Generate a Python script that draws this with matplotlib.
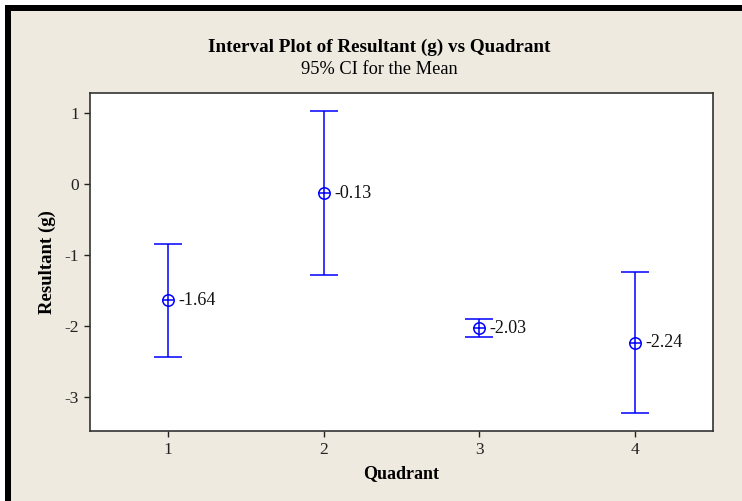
import numpy as np
import matplotlib.pyplot as plt
from matplotlib.patches import Rectangle

plt.rcParams['font.family'] = ['Liberation Serif', 'DejaVu Serif']
plt.rcParams['axes.unicode_minus'] = False

# data
quadrants = [1, 2, 3, 4]
means = [-1.64, -0.13, -2.03, -2.24]
ci_upper = [-0.85, 1.03, -1.90, -1.24]
ci_lower = [-2.44, -1.28, -2.15, -3.22]
y_ticks = [1, 0, -1, -2, -3]

bg = '#EEEAE0'
blue = '#0000FF'

fig = plt.figure(figsize=(7.42, 5.01), dpi=100, facecolor='white')
# beige panel with thick black top/left edge
fig.patches.append(Rectangle((8 / 742, 0), 1, 1 - 8 / 501, transform=fig.transFigure,
                             facecolor=bg, edgecolor='none', zorder=-2))
fig.patches.append(Rectangle((5 / 742, 0), 6 / 742, 1 - 5 / 501, transform=fig.transFigure,
                             facecolor='black', edgecolor='none', zorder=-1))
fig.patches.append(Rectangle((5 / 742, 1 - 11 / 501), 1, 6 / 501, transform=fig.transFigure,
                             facecolor='black', edgecolor='none', zorder=-1))

ax = fig.add_axes([90 / 742, 1 - 431 / 501, 623 / 742, 338 / 501])
ax.set_facecolor('white')

m = np.array(means)
yerr = [m - np.array(ci_lower), np.array(ci_upper) - m]
ax.errorbar(quadrants, means, yerr=yerr, fmt='none', ecolor=blue, elinewidth=1.1,
            capsize=10.2, capthick=1.1)
ax.plot(quadrants, means, 'o', ms=8.2, mfc='white', mec=blue, mew=1.1, ls='none', zorder=3)
ax.plot(quadrants, means, '+', ms=8.2, mec=blue, mew=1.1, ls='none', zorder=4)
for q, v in zip(quadrants, means):
    ax.annotate(f'{v:.2f}', (q, v), xytext=(7.5, 0), textcoords='offset points',
                va='center', ha='left', fontsize=13, color='#111111')

ax.set_xlim(0.5, 4.5)
ax.set_ylim(-3.48, 1.28)
ax.set_xticks(quadrants)
ax.set_yticks(y_ticks)
ax.tick_params(labelsize=12.5, length=4, width=1, colors='#222222', pad=4)
for s in ax.spines.values():
    s.set_linewidth(1.2)
    s.set_color('#333333')

ax.set_xlabel('Quadrant', fontsize=13, fontweight='bold', labelpad=5)
ax.set_ylabel('Resultant (g)', fontsize=13.5, fontweight='bold', labelpad=6)

fig.text(379 / 742, 1 - 47 / 501, 'Interval Plot of Resultant (g) vs Quadrant',
         ha='center', va='center', fontsize=13.8, fontweight='bold')
fig.text(379 / 742, 1 - 70 / 501, '95% CI for the Mean', ha='center', va='center', fontsize=13.2)

fig.savefig('out.png', dpi=100, facecolor=fig.get_facecolor())
